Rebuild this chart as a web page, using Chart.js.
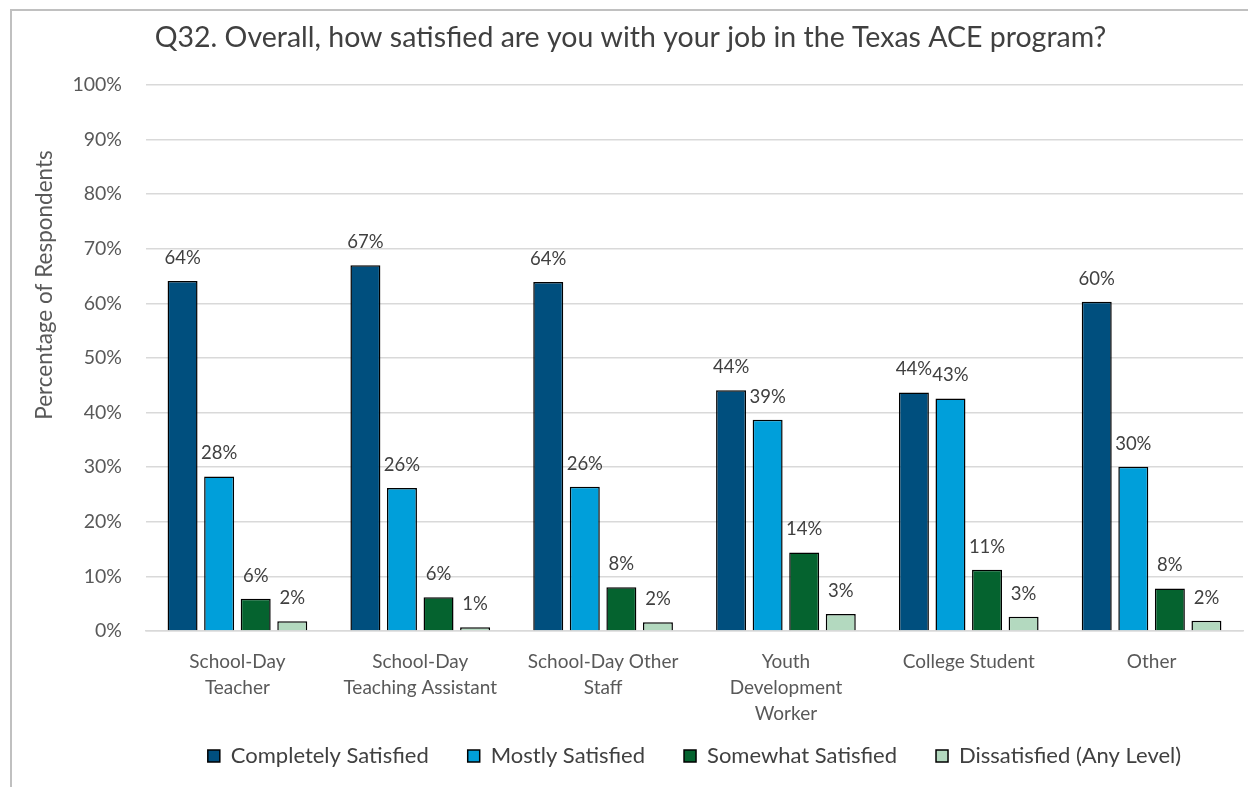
<!DOCTYPE html>
<html>
<head>
<meta charset="utf-8">
<script src="https://cdn.jsdelivr.net/npm/chart.js@4.4.1/dist/chart.umd.min.js"></script>
<style>
  html, body { margin: 0; padding: 0; background: #ffffff; }
  #wrap { width: 1248px; height: 787px; }
</style>
</head>
<body>
<div id="wrap"><canvas id="c" width="1248" height="787"></canvas></div>
<script>
// Respondent roles (multi-line category labels)
const categories = [
  ['School-Day', 'Teacher'],
  ['School-Day', 'Teaching Assistant'],
  ['School-Day Other', 'Staff'],
  ['Youth', 'Development', 'Worker'],
  ['College Student'],
  ['Other']
];
const seriesNames = ['Completely Satisfied', 'Mostly Satisfied', 'Somewhat Satisfied', 'Dissatisfied (Any Level)'];

// Percent of respondents per role
const completelySatisfied = [64.1, 67.0, 63.9, 44.1, 43.7, 60.3];
const mostlySatisfied     = [28.3, 26.2, 26.4, 38.7, 42.6, 30.1];
const somewhatSatisfied   = [5.9, 6.2, 8.0, 14.4, 11.2, 7.8];
const dissatisfied        = [1.8, 0.7, 1.6, 3.1, 2.6, 1.9];

const yTickValues = [0, 10, 20, 30, 40, 50, 60, 70, 80, 90, 100];

const chartTitle = 'Q32. Overall, how satisfied are you with your job in the Texas ACE program?';
const yAxisTitle = 'Percentage of Respondents';

const seriesColors = ['#004F7E', '#009FDA', '#05632F', '#B3D9BF'];
const FONT = 'Lato, "Open Sans", sans-serif';

const seriesValues = [completelySatisfied, mostlySatisfied, somewhatSatisfied, dissatisfied];

// Thin grey frame around the chart
const framePlugin = {
  id: 'frame',
  beforeDraw(chart) {
    const ctx = chart.ctx;
    ctx.save();
    ctx.fillStyle = '#ffffff';
    ctx.fillRect(0, 0, chart.width, chart.height);
    ctx.strokeStyle = '#c0c0c0';
    ctx.lineWidth = 2;
    ctx.beginPath();
    ctx.moveTo(11, chart.height);
    ctx.lineTo(11, 10);
    ctx.lineTo(chart.width, 10);
    ctx.stroke();
    ctx.restore();
  }
};

// Let the multi-line category labels run below the x scale box
const xLabelRoomPlugin = {
  id: 'xLabelRoom',
  afterLayout(chart) {
    chart.scales.x.bottom = chart.height;
  }
};

// Rotated y-axis caption
const yCaptionPlugin = {
  id: 'yCaption',
  afterDraw(chart) {
    const ctx = chart.ctx;
    ctx.save();
    ctx.translate(45, 285);
    ctx.rotate(-Math.PI / 2);
    ctx.font = '22.5px ' + FONT;
    ctx.fillStyle = '#595959';
    ctx.textAlign = 'center';
    ctx.textBaseline = 'middle';
    ctx.fillText(yAxisTitle, 0, 0);
    ctx.restore();
  }
};

// Value labels above each bar
const valueLabelPlugin = {
  id: 'valueLabels',
  afterDatasetsDraw(chart) {
    const ctx = chart.ctx;
    ctx.save();
    ctx.font = '18.5px ' + FONT;
    ctx.fillStyle = '#404040';
    ctx.textAlign = 'center';
    ctx.textBaseline = 'middle';
    chart.data.datasets.forEach((ds, di) => {
      const meta = chart.getDatasetMeta(di);
      meta.data.forEach((bar, i) => {
        ctx.fillText(Math.round(ds.data[i]) + '%', bar.x, bar.y - 23);
      });
    });
    ctx.restore();
  }
};

new Chart(document.getElementById('c'), {
  type: 'bar',
  data: {
    labels: categories,
    datasets: seriesNames.map((name, k) => ({
      label: name,
      data: seriesValues[k],
      backgroundColor: seriesColors[k],
      borderColor: '#000000',
      borderWidth: 1.5,
      categoryPercentage: 0.8,
      barPercentage: 0.82
    }))
  },
  options: {
    responsive: false,
    animation: false,
    devicePixelRatio: 1,
    layout: { padding: { left: 18, right: 5, top: 0, bottom: 10 } },
    plugins: {
      title: {
        display: true,
        text: chartTitle,
        color: '#404040',
        font: { family: FONT, size: 28.5, weight: 'normal', lineHeight: 1.2 },
        padding: { top: 20.9, bottom: 29.9 }
      },
      legend: {
        position: 'bottom',
        fullSize: false,
        labels: {
          boxWidth: 12,
          boxHeight: 12,
          padding: 39,
          color: '#404040',
          font: { family: FONT, size: 22 }
        }
      },
      tooltip: { enabled: false }
    },
    scales: {
      x: {
        grid: { display: false, drawTicks: false },
        border: { display: true, color: '#d9d9d9', width: 1.5 },
        ticks: {
          color: '#595959',
          font: { family: FONT, size: 19, lineHeight: 1.37 },
          padding: 18,
          maxRotation: 0,
          autoSkip: false
        },
        afterFit(scale) { scale.height = 75; }
      },
      y: {
        min: 0,
        max: 100,
        afterBuildTicks(scale) { scale.ticks = yTickValues.map(v => ({ value: v })); },
        ticks: {
          color: '#595959',
          font: { family: FONT, size: 19.5 },
          padding: 24,
          callback: v => v + '%'
        },
        grid: { color: '#d9d9d9', lineWidth: 1.5, drawTicks: false },
        border: { display: false },
        afterFit(scale) { scale.width = 128; }
      }
    }
  },
  plugins: [framePlugin, xLabelRoomPlugin, yCaptionPlugin, valueLabelPlugin]
});
</script>
</body>
</html>
